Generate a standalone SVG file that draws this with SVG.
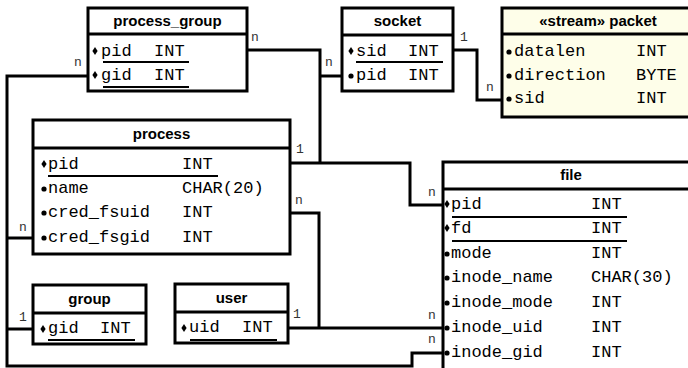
<svg xmlns="http://www.w3.org/2000/svg" xmlns:xlink="http://www.w3.org/1999/xlink" width="688" height="368" viewBox="0 0 688 368">
  <defs>
    <style>
      .box { fill: #ffffff; stroke: #000; stroke-width: 3; }
      .stream { fill: #fefee9; }
      .div { stroke: #000; stroke-width: 3; }
      .ul { stroke: #000; stroke-width: 2; }
      .hdr { font-family: "Liberation Sans", Arial, sans-serif; font-weight: bold; font-size: 15px; text-anchor: middle; fill: #000; }
      .fld { font-family: "Liberation Mono", "Courier New", monospace; font-size: 17px; fill: #000; }
      .card { font-family: "Liberation Mono", "Courier New", monospace; font-size: 13px; fill: #333; }
      .wire { fill: none; stroke: #000; stroke-width: 3; stroke-linejoin: miter; }
    </style>
    <polygon id="key" points="0,-4 2.6,0 0,4 -2.6,0" fill="#000"/>
    <circle id="att" r="2.6" fill="#000"/>
  </defs>

  <!-- relationships -->
  <g id="connectors">
    <!-- pid: process_group / socket / process / file -->
    <polyline class="wire" points="247,50 320,50 320,163"/>
    <polyline class="wire" points="320,76 342,76"/>
    <polyline class="wire" points="290,163 410,163 410,205 443,205"/>
    <!-- sid: socket / packet -->
    <polyline class="wire" points="453,50 477,50 477,100 502,100"/>
    <!-- gid: process_group / process / group / file -->
    <polyline class="wire" points="88,76 7,76 7,366 412,366 412,353 443,353"/>
    <polyline class="wire" points="7,238 33,238"/>
    <polyline class="wire" points="7,329 33,329"/>
    <!-- uid: process / user / file -->
    <polyline class="wire" points="290,213 319,213 319,328"/>
    <polyline class="wire" points="288,328 443,328"/>

    <text class="card" x="251" y="41">n</text>
    <text class="card" x="74" y="66">n</text>
    <text class="card" x="325" y="66">n</text>
    <text class="card" x="460" y="41">1</text>
    <text class="card" x="486" y="91">n</text>
    <text class="card" x="296" y="153">1</text>
    <text class="card" x="295" y="204">n</text>
    <text class="card" x="428" y="196">n</text>
    <text class="card" x="19" y="231">n</text>
    <text class="card" x="19" y="321">1</text>
    <text class="card" x="293" y="318">1</text>
    <text class="card" x="428" y="319">n</text>
    <text class="card" x="428" y="343">n</text>
  </g>

  <g id="process_group">
    <rect class="box" x="88" y="8" width="159" height="83"/>
    <line class="div" x1="88" y1="34" x2="247" y2="34"/>
    <text class="hdr" x="167.5" y="26">process_group</text>
    <use xlink:href="#key" x="95" y="51"/>
    <text class="fld" x="101" y="56">pid</text>
    <text class="fld" x="154" y="56">INT</text>
    <line class="ul" x1="103" y1="62" x2="189" y2="62"/>
    <use xlink:href="#key" x="95" y="75"/>
    <text class="fld" x="101" y="80">gid</text>
    <text class="fld" x="154" y="80">INT</text>
    <line class="ul" x1="103" y1="87" x2="189" y2="87"/>
  </g>

  <g id="socket">
    <rect class="box" x="342" y="8" width="111" height="83"/>
    <line class="div" x1="342" y1="35" x2="453" y2="35"/>
    <text class="hdr" x="397.5" y="26">socket</text>
    <use xlink:href="#key" x="351" y="51"/>
    <text class="fld" x="356" y="56">sid</text>
    <text class="fld" x="408" y="56">INT</text>
    <line class="ul" x1="356" y1="62" x2="443" y2="62"/>
    <use xlink:href="#att" x="351" y="76"/>
    <text class="fld" x="356" y="80">pid</text>
    <text class="fld" x="408" y="80">INT</text>
  </g>

  <g id="packet">
    <rect class="box stream" x="502" y="8" width="194" height="109"/>
    <line class="div" x1="502" y1="34" x2="696" y2="34"/>
    <text class="hdr" x="598" y="26">«stream» packet</text>
    <use xlink:href="#att" x="509" y="52"/>
    <text class="fld" x="514" y="56">datalen</text>
    <text class="fld" x="636" y="56">INT</text>
    <use xlink:href="#att" x="509" y="76"/>
    <text class="fld" x="514" y="80">direction</text>
    <text class="fld" x="636" y="80">BYTE</text>
    <use xlink:href="#att" x="509" y="99"/>
    <text class="fld" x="514" y="103">sid</text>
    <text class="fld" x="636" y="103">INT</text>
  </g>

  <g id="process">
    <rect class="box" x="33" y="120" width="257" height="134"/>
    <line class="div" x1="33" y1="148" x2="290" y2="148"/>
    <text class="hdr" x="161.5" y="139">process</text>
    <use xlink:href="#key" x="44" y="164"/>
    <text class="fld" x="48" y="169">pid</text>
    <text class="fld" x="182" y="169">INT</text>
    <line class="ul" x1="48" y1="176" x2="218" y2="176"/>
    <use xlink:href="#att" x="44" y="189"/>
    <text class="fld" x="48" y="193">name</text>
    <text class="fld" x="182" y="193">CHAR(20)</text>
    <use xlink:href="#att" x="44" y="213"/>
    <text class="fld" x="48" y="217">cred_fsuid</text>
    <text class="fld" x="182" y="217">INT</text>
    <use xlink:href="#att" x="44" y="238"/>
    <text class="fld" x="48" y="242">cred_fsgid</text>
    <text class="fld" x="182" y="242">INT</text>
  </g>

  <g id="file">
    <rect class="box" x="443" y="162" width="260" height="208"/>
    <line class="div" x1="443" y1="189" x2="703" y2="189"/>
    <text class="hdr" x="571" y="180">file</text>
    <use xlink:href="#key" x="447" y="204"/>
    <text class="fld" x="451" y="209">pid</text>
    <text class="fld" x="591" y="209">INT</text>
    <line class="ul" x1="452" y1="217" x2="627" y2="217"/>
    <use xlink:href="#key" x="447" y="228"/>
    <text class="fld" x="451" y="233">fd</text>
    <text class="fld" x="591" y="233">INT</text>
    <line class="ul" x1="452" y1="241" x2="627" y2="241"/>
    <use xlink:href="#att" x="447" y="254"/>
    <text class="fld" x="451" y="258">mode</text>
    <text class="fld" x="591" y="258">INT</text>
    <use xlink:href="#att" x="447" y="278"/>
    <text class="fld" x="451" y="282">inode_name</text>
    <text class="fld" x="591" y="282">CHAR(30)</text>
    <use xlink:href="#att" x="447" y="303"/>
    <text class="fld" x="451" y="307">inode_mode</text>
    <text class="fld" x="591" y="307">INT</text>
    <use xlink:href="#att" x="447" y="328"/>
    <text class="fld" x="451" y="332">inode_uid</text>
    <text class="fld" x="591" y="332">INT</text>
    <use xlink:href="#att" x="447" y="353"/>
    <text class="fld" x="451" y="357">inode_gid</text>
    <text class="fld" x="591" y="357">INT</text>
  </g>

  <g id="group">
    <rect class="box" x="33" y="285" width="113" height="59"/>
    <line class="div" x1="33" y1="313" x2="146" y2="313"/>
    <text class="hdr" x="89.5" y="304">group</text>
    <use xlink:href="#key" x="43" y="329"/>
    <text class="fld" x="48" y="333">gid</text>
    <text class="fld" x="100" y="333">INT</text>
    <line class="ul" x1="48" y1="340" x2="135" y2="340"/>
  </g>

  <g id="user">
    <rect class="box" x="175" y="284" width="113" height="59"/>
    <line class="div" x1="175" y1="312" x2="288" y2="312"/>
    <text class="hdr" x="231.5" y="303">user</text>
    <use xlink:href="#key" x="184" y="328"/>
    <text class="fld" x="189" y="332">uid</text>
    <text class="fld" x="242" y="332">INT</text>
    <line class="ul" x1="190" y1="340" x2="277" y2="340"/>
  </g>
</svg>
